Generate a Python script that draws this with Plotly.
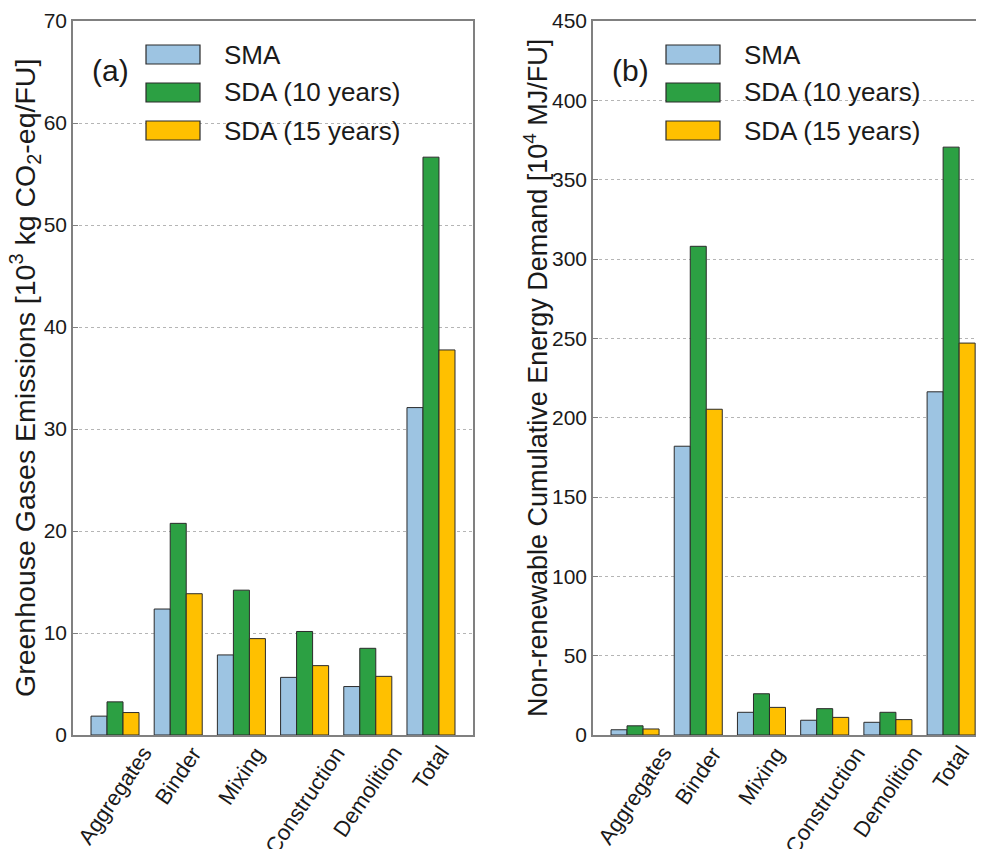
import plotly.graph_objects as go

# ---------------- data ----------------
categories = ["Aggregates", "Binder", "Mixing", "Construction", "Demolition", "Total"]
series_names = ["SMA", "SDA (10 years)", "SDA (15 years)"]
series_colors = ["#9DC4E2", "#2CA043", "#FFC000"]

ghg_sma = [1.85, 12.35, 7.85, 5.65, 4.75, 32.1]
ghg_sda10 = [3.25, 20.75, 14.2, 10.15, 8.5, 56.65]
ghg_sda15 = [2.2, 13.85, 9.45, 6.8, 5.75, 37.75]

ced_sma = [3.3, 182.0, 14.3, 9.3, 8.0, 216.3]
ced_sda10 = [5.8, 308.0, 26.0, 16.6, 14.3, 370.5]
ced_sda15 = [3.8, 205.3, 17.4, 11.1, 9.7, 247.0]

ghg_ticks = [0, 10, 20, 30, 40, 50, 60, 70]
ced_ticks = [0, 50, 100, 150, 200, 250, 300, 350, 400, 450]

panel_labels = ["(a)", "(b)"]
ytitles = [
    "Greenhouse Gases Emissions [10<sup>3</sup> kg CO<sub>2</sub>-eq/FU]",
    "Non-renewable Cumulative Energy Demand [10<sup>4</sup> MJ/FU]",
]

# ---------------- figure ----------------
FONT = "Liberation Sans, Arial, sans-serif"
TXT = "#1a1a1a"
FRAME = "#808080"

fig = go.Figure()

panels = [
    ("x", "y", [ghg_sma, ghg_sda10, ghg_sda15]),
    ("x2", "y2", [ced_sma, ced_sda10, ced_sda15]),
]
for xa, ya, data in panels:
    for name, color, vals in zip(series_names, series_colors, data):
        fig.add_trace(go.Bar(
            x=categories, y=vals, name=name, xaxis=xa, yaxis=ya,
            marker=dict(color=color, line=dict(color="#2b2b2b", width=1)),
            showlegend=False,
        ))

# page body has an 8px margin, so figure coords = page coords - 8
W, H = 984, 849
L, R, T, B = 65, 8, 13, 122
PW = W - L - R

common_x = dict(
    type="category", showline=True, linecolor=FRAME, linewidth=1.5, mirror=True,
    ticks="", showgrid=False, showticklabels=False, automargin=False,
)
common_y = dict(
    showline=True, linecolor=FRAME, linewidth=1.5, zeroline=False,
    ticks="inside", ticklen=5, tickcolor=FRAME, tickwidth=1, automargin=False,
    ticklabeloverflow="allow",
    showgrid=True, gridcolor="#b5b5b5", griddash="dot", gridwidth=1,
    tickfont=dict(family=FONT, size=21, color=TXT),
)

fig.update_layout(
    width=W, height=H,
    margin=dict(l=L, r=R, t=T, b=B),
    paper_bgcolor="white", plot_bgcolor="white",
    barmode="group", bargap=0.24, bargroupgap=0,
    xaxis=dict(common_x, domain=[0, 400 / PW], range=[-0.665, 5.665], anchor="y"),
    yaxis=dict(common_y, range=[0, 70], tickvals=ghg_ticks, mirror=True, anchor="x"),
    xaxis2=dict(common_x, domain=[520 / PW, 1], range=[-0.665, 5.52], anchor="y2"),
    yaxis2=dict(common_y, range=[0, 450], tickvals=ced_ticks, mirror=False, anchor="x2"),
    font=dict(family=FONT, color=TXT),
)

# y-axis titles as rotated annotations (precise placement)
title_centers = [17, 528]          # figure px
title_sizes = [28.5, 27]
for ya, txt, cx, fs in zip(["y", "y2"], ytitles, title_centers, title_sizes):
    fig.add_annotation(
        xref="paper", yref=f"{ya} domain", x=(cx - L) / PW, y=0.5,
        text=txt, textangle=-90, showarrow=False,
        xanchor="center", yanchor="middle",
        font=dict(family=FONT, size=fs, color=TXT),
    )

# rotated category labels, centred under each group
for xa, ya in [("x", "y"), ("x2", "y2")]:
    for cat in categories:
        fig.add_annotation(
            xref=xa, yref=f"{ya} domain", x=cat, y=0,
            text=cat, textangle=-56, showarrow=False,
            xanchor="center", yanchor="top", yshift=-4,
            font=dict(family=FONT, size=22, color=TXT),
        )

# legends drawn inside each panel, plus panel labels
panel_widths = [400, PW - 520]
plot_h = H - T - B
for p, (xa, ya) in enumerate([("x", "y"), ("x2", "y2")]):
    pw = panel_widths[p]
    for i, (name, color) in enumerate(zip(series_names, series_colors)):
        top = 24 + 38 * i
        fig.add_shape(
            type="rect", xref=f"{xa} domain", yref=f"{ya} domain",
            x0=73 / pw, x1=127 / pw,
            y0=1 - (top + 19) / plot_h, y1=1 - top / plot_h,
            fillcolor=color, line=dict(color="#2b2b2b", width=1.2), layer="above",
        )
        fig.add_annotation(
            xref=f"{xa} domain", yref=f"{ya} domain",
            x=149 / pw, y=1 - (top + 9.5) / plot_h,
            text=name, showarrow=False, xanchor="left", yanchor="middle",
            font=dict(family=FONT, size=26, color=TXT),
        )
    fig.add_annotation(
        xref=f"{xa} domain", yref=f"{ya} domain",
        x=17 / pw, y=1 - 50 / plot_h,
        text=panel_labels[p], showarrow=False, xanchor="left", yanchor="middle",
        font=dict(family=FONT, size=30, color=TXT),
    )

fig.write_html("out.html")
